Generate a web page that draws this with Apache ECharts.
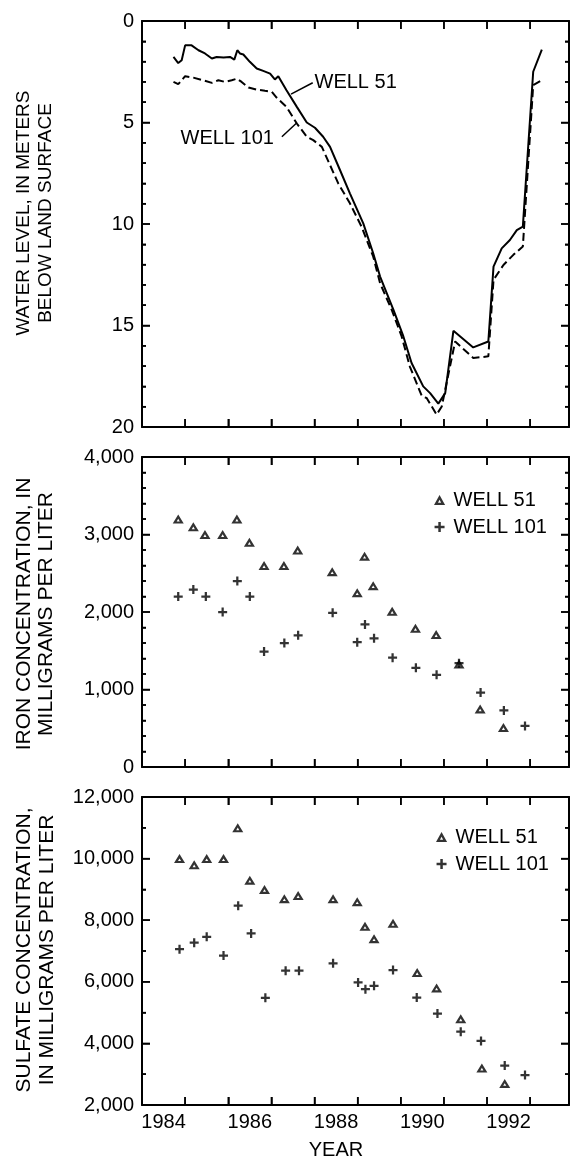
<!DOCTYPE html>
<html>
<head>
<meta charset="utf-8">
<title>Water level, iron and sulfate, wells 51 and 101</title>
<script src="https://cdn.jsdelivr.net/npm/echarts@6/dist/echarts.min.js"></script>
<style>
  html, body { margin: 0; padding: 0; background: #fff; }
  #chart { width: 570px; height: 1158px; }
</style>
</head>
<body>
<div id="chart"></div>
<script>
// ---- data (x = decimal year) ----
const yearLabels = [1984, 1986, 1988, 1990, 1992];
const yearTicks = [1985, 1986, 1987, 1988, 1989, 1990, 1991, 1992, 1993];
const levelTicks = [0, 5, 10, 15, 20];
const ironTicks = [0, 1000, 2000, 3000, 4000];
const sulfateTicks = [2000, 4000, 6000, 8000, 10000, 12000];

// Water level, in meters below land surface
const well51Level = [
  [1984.73, 1.77], [1984.84, 2.07], [1984.92, 1.93], [1985.0, 1.2], [1985.15, 1.2],
  [1985.31, 1.44], [1985.46, 1.6], [1985.62, 1.85], [1985.73, 1.77], [1985.89, 1.8],
  [1986.04, 1.77], [1986.14, 1.9], [1986.21, 1.44], [1986.27, 1.6], [1986.35, 1.65],
  [1986.5, 2.01], [1986.66, 2.34], [1986.81, 2.46], [1986.97, 2.59], [1987.08, 2.88],
  [1987.16, 2.72], [1987.35, 3.41], [1987.59, 4.23], [1987.82, 5.0], [1988.01, 5.26],
  [1988.2, 5.7], [1988.36, 6.2], [1988.59, 7.34], [1988.82, 8.49], [1989.13, 9.97],
  [1989.36, 11.44], [1989.52, 12.59], [1989.83, 14.23], [1990.06, 15.54], [1990.25, 16.85],
  [1990.52, 18.0], [1990.68, 18.33], [1990.87, 18.85], [1991.03, 18.33], [1991.22, 15.26],
  [1991.68, 16.08], [1992.03, 15.79], [1992.15, 12.1], [1992.34, 11.2], [1992.53, 10.79],
  [1992.69, 10.3], [1992.83, 10.13], [1993.07, 2.5], [1993.27, 1.41]
];
const well101Level = [
  [1984.73, 3.0], [1984.84, 3.11], [1985.0, 2.72], [1985.19, 2.79], [1985.42, 2.92],
  [1985.62, 3.05], [1985.77, 2.92], [1985.92, 3.0], [1986.08, 2.92], [1986.2, 2.84],
  [1986.31, 3.0], [1986.47, 3.28], [1986.66, 3.38], [1986.85, 3.44], [1987.01, 3.49],
  [1987.12, 3.77], [1987.35, 4.23], [1987.59, 5.05], [1987.82, 5.7], [1987.97, 5.87],
  [1988.17, 6.2], [1988.36, 7.1], [1988.55, 8.0], [1988.82, 8.98], [1989.09, 10.13],
  [1989.36, 11.6], [1989.52, 12.92], [1989.79, 14.23], [1990.02, 15.54], [1990.21, 17.02],
  [1990.49, 18.49], [1990.6, 18.57], [1990.83, 19.39], [1990.95, 18.99], [1991.26, 15.79],
  [1991.68, 16.6], [1992.03, 16.52], [1992.15, 12.75], [1992.38, 12.02], [1992.61, 11.52],
  [1992.83, 11.11], [1993.07, 3.16], [1993.27, 2.92]
];
// Leader lines from the well names to their curves, and where each name starts
const well51Leader = [[1987.455, 3.6], [1987.958, 3.04]];
const well101Leader = [[1987.243, 5.7], [1987.591, 5.01]];
const well51NameAt = [1988.0, 3.04];
const well101NameAt = [1984.893, 5.78];

// Iron concentration, in milligrams per liter
const ironWell51 = [
  [1984.84, 3200], [1985.19, 3100], [1985.46, 3000], [1985.87, 3000], [1986.2, 3200],
  [1986.49, 2900], [1986.83, 2600], [1987.29, 2600], [1987.61, 2800], [1988.41, 2520],
  [1988.99, 2250], [1989.16, 2720], [1989.36, 2340], [1989.8, 2010], [1990.34, 1790],
  [1990.82, 1710], [1991.35, 1330], [1991.84, 750], [1992.38, 510]
];
const ironWell101 = [
  [1984.84, 2200], [1985.19, 2290], [1985.48, 2200], [1985.87, 2000], [1986.21, 2400],
  [1986.5, 2200], [1986.83, 1490], [1987.3, 1600], [1987.62, 1700], [1988.42, 1990],
  [1988.99, 1610], [1989.17, 1840], [1989.38, 1660], [1989.81, 1410], [1990.35, 1280],
  [1990.83, 1190], [1991.35, 1340], [1991.85, 960], [1992.39, 730], [1992.88, 530]
];

// Sulfate concentration, in milligrams per liter
const sulfateWell51 = [
  [1984.87, 10000], [1985.21, 9800], [1985.5, 10000], [1985.89, 10000], [1986.22, 11000],
  [1986.5, 9300], [1986.84, 9000], [1987.3, 8700], [1987.62, 8800], [1988.43, 8700],
  [1988.99, 8600], [1989.17, 7800], [1989.38, 7400], [1989.82, 7900], [1990.38, 6300],
  [1990.83, 5800], [1991.39, 4800], [1991.88, 3200], [1992.41, 2700]
];
const sulfateWell101 = [
  [1984.87, 7060], [1985.21, 7270], [1985.5, 7460], [1985.89, 6850], [1986.23, 8470],
  [1986.53, 7570], [1986.86, 5480], [1987.33, 6360], [1987.64, 6360], [1988.43, 6600],
  [1989.01, 5980], [1989.18, 5760], [1989.38, 5870], [1989.82, 6380], [1990.37, 5490],
  [1990.85, 4970], [1991.39, 4380], [1991.86, 4080], [1992.41, 3280], [1992.88, 2970]
];

// ---- styling helpers ----
const FONT = '"Liberation Sans", Arial, Helvetica, sans-serif';
const INK = '#000';
const X_MIN = 1984, X_MAX = 1993.9;
// open triangle (outer outline with a hole) and a plus sign
const TRIANGLE = 'path://M5,0L10,9L0,9Z M5,4.3L3.6,6.9L6.4,6.9Z';
const PLUS = 'path://M3,0H5V3H8V5H5V8H3V5H0V3H3Z';

const withCommas = v => String(v).replace(/\B(?=(\d{3})+(?!\d))/g, ',');

function xAxisFor(grid, position, showLabels) {
  return {
    type: 'value', gridIndex: grid, position: position, min: X_MIN, max: X_MAX,
    axisLine: { show: true, onZero: false, lineStyle: { color: INK, width: 2 } },
    axisTick: { show: true, inside: true, length: 8, customValues: yearTicks,
                lineStyle: { color: INK, width: 1.5 } },
    axisLabel: showLabels ? {
      show: true, customValues: yearLabels.map(y => y + 0.5),
      formatter: v => String(Math.floor(v)),
      color: INK, fontSize: 20, fontFamily: FONT, margin: 7
    } : { show: false },
    splitLine: { show: false }
  };
}

function yAxisFor(grid, position, cfg, showLabels) {
  return {
    type: 'value', gridIndex: grid, position: position,
    min: cfg.min, max: cfg.max, interval: cfg.interval, inverse: !!cfg.inverse,
    axisLine: { show: true, onZero: false, lineStyle: { color: INK, width: 2 } },
    axisTick: { show: true, inside: true, length: 8, lineStyle: { color: INK, width: 1.5 } },
    minorTick: { show: true, splitNumber: cfg.minor, length: 4, lineStyle: { color: INK, width: 1.5 } },
    axisLabel: showLabels ? {
      show: true, formatter: withCommas, color: INK, fontSize: 20, fontFamily: FONT, margin: 8
    } : { show: false },
    splitLine: { show: false },
    minorSplitLine: { show: false }
  };
}

const levelAxis = { min: 0, max: 20, interval: 5, minor: 5, inverse: true, ticks: levelTicks };
const ironAxis = { min: 0, max: 4000, interval: 1000, minor: 5, ticks: ironTicks };
const sulfateAxis = { min: 2000, max: 12000, interval: 2000, minor: 2, ticks: sulfateTicks };

// Inward tick marks on all four sides of a panel, drawn as thin filled bars
// placed through the panel's own scales, on a layer of their own.
function frameTicks(axisIdx, cfg) {
  const minors = [];
  for (let i = 0; i < cfg.ticks.length - 1; i++) {
    const step = (cfg.ticks[i + 1] - cfg.ticks[i]) / cfg.minor;
    for (let k = 1; k < cfg.minor; k++) minors.push(cfg.ticks[i] + k * step);
  }
  return {
    type: 'custom', name: 'frame ticks ' + axisIdx, xAxisIndex: axisIdx, yAxisIndex: axisIdx,
    silent: true, clip: false, zlevel: 1, z: 5,
    data: [[X_MIN, cfg.min]],
    renderItem: (params, api) => {
      const r = params.coordSys;
      const left = r.x, right = r.x + r.width, top = r.y, bottom = r.y + r.height;
      const bar = (x, y, w, h) => ({ type: 'rect', shape: { x: x, y: y, width: w, height: h },
                                     style: { fill: INK } });
      const kids = [];
      yearTicks.forEach(t => {
        const px = api.coord([t, cfg.min])[0];
        kids.push(bar(px - 0.75, bottom - 8, 1.5, 8), bar(px - 0.75, top, 1.5, 8));
      });
      cfg.ticks.forEach(v => {
        const py = api.coord([X_MIN, v])[1];
        kids.push(bar(left, py - 0.75, 8, 1.5), bar(right - 8, py - 0.75, 8, 1.5));
      });
      minors.forEach(v => {
        const py = api.coord([X_MIN, v])[1];
        kids.push(bar(left, py - 0.75, 4, 1.5), bar(right - 4, py - 0.75, 4, 1.5));
      });
      return { type: 'group', children: kids };
    }
  };
}

function axisTitle(lines, x, y, size, lh) {
  return {
    type: 'text', x: x, y: y, rotation: Math.PI / 2, silent: true,
    style: { text: lines.join('\n'), fill: INK, fontSize: size, fontFamily: FONT,
             align: 'center', verticalAlign: 'middle', lineHeight: lh }
  };
}

function plainText(text, pos, align) {
  return {
    type: 'text', x: pos[0], y: pos[1], silent: true,
    style: { text: text, fill: INK, fontSize: 20, fontFamily: FONT,
             align: align, verticalAlign: 'middle' }
  };
}

function legendFor(left, top) {
  return {
    orient: 'vertical', left: left, top: top, itemWidth: 18, itemHeight: 10, itemGap: 7,
    selectedMode: false, padding: 0,
    textStyle: { color: INK, fontSize: 20, fontFamily: FONT },
    itemStyle: { color: INK },
    data: [{ name: 'WELL 51', icon: TRIANGLE }, { name: 'WELL 101', icon: PLUS }]
  };
}

function scatter(name, symbol, size, axisIdx, data) {
  return {
    type: 'scatter', name: name, xAxisIndex: axisIdx, yAxisIndex: axisIdx,
    symbol: symbol, symbolSize: size, symbolKeepAspect: true,
    itemStyle: { color: INK }, data: data
  };
}

function levelLine(name, data, dash, width) {
  return {
    type: 'line', name: name, xAxisIndex: 0, yAxisIndex: 0,
    data: data, showSymbol: false, symbol: 'none',
    lineStyle: { color: INK, width: width, type: dash || 'solid' }
  };
}

const chart = echarts.init(document.getElementById('chart'));

// is a tick visible next to the "5" on the water-level axis?
function tickShows() {
  const canvases = chart.getDom().querySelectorAll('canvas');
  for (const c of canvases) {
    const d = c.getContext('2d').getImageData(145, 118, 5, 9).data;
    for (let i = 0; i < d.length; i += 4) {
      if (d[i + 3] > 128 && d[i] < 110) return true;
    }
  }
  return false;
}
const steps = [];

// frame, axes and labels for the three stacked panels
chart.setOption({
  animation: false,
  backgroundColor: '#fff',
  grid: [
    { left: 142, top: 21, width: 427, height: 406 },
    { left: 142, top: 457, width: 427, height: 310 },
    { left: 142, top: 797, width: 427, height: 308 }
  ],
  xAxis: [
    xAxisFor(0, 'bottom', false), xAxisFor(0, 'top', false),
    xAxisFor(1, 'bottom', false), xAxisFor(1, 'top', false),
    xAxisFor(2, 'bottom', true), xAxisFor(2, 'top', false)
  ],
  yAxis: [
    yAxisFor(0, 'left', levelAxis, true), yAxisFor(0, 'right', levelAxis, false),
    yAxisFor(1, 'left', ironAxis, true), yAxisFor(1, 'right', ironAxis, false),
    yAxisFor(2, 'left', sulfateAxis, true), yAxisFor(2, 'right', sulfateAxis, false)
  ]
});
steps.push(tickShows());

// water-level curves, their leader lines, the concentration samples and panel ticks
chart.setOption({
  series: [
    scatter('WELL 51', TRIANGLE, [11, 10], 2, ironWell51),
    scatter('WELL 101', PLUS, 9, 2, ironWell101),
    scatter('WELL 51', TRIANGLE, [11, 10], 4, sulfateWell51),
    scatter('WELL 101', PLUS, 9, 4, sulfateWell101),
    levelLine('Well 51 water level', well51Level, null, 2),
    levelLine('Well 101 water level', well101Level, [8, 4], 2),
    levelLine('Well 51 leader', well51Leader, null, 1.5),
    levelLine('Well 101 leader', well101Leader, null, 1.5),
    frameTicks(0, levelAxis),
    frameTicks(2, ironAxis),
    frameTicks(4, sulfateAxis)
  ]
});
steps.push(tickShows());

chart.setOption({ legend: [legendFor(434, 490), legendFor(436, 827)] });
steps.push(tickShows());

// well names on the water-level panel, placed through the panel's scales
const toPx = p => chart.convertToPixel({ seriesIndex: 4 }, p);
const texts = [
  axisTitle(['WATER LEVEL, IN METERS', 'BELOW LAND SURFACE'], 35, 213, 19, 22.5),
  axisTitle(['IRON CONCENTRATION, IN', 'MILLIGRAMS PER LITER'], 35.5, 614, 21, 22),
  axisTitle(['SULFATE CONCENTRATION,', 'IN MILLIGRAMS PER LITER'], 36, 950, 21, 23),
  plainText('YEAR', [336, 1150], 'center'),
  plainText('WELL 51', toPx(well51NameAt), 'left'),
  plainText('WELL 101', toPx(well101NameAt), 'left')
];
chart.setOption({ graphic: texts });
steps.push(tickShows());

// tiny status note only when the ticks did not come through
if (!steps[steps.length - 1]) {
  chart.setOption({
    graphic: texts.concat([{
      type: 'text', x: 430, y: 40, silent: true,
      style: { text: 'ticks ' + steps.map(s => (s ? 1 : 0)).join(''), fill: '#888', fontSize: 10 }
    }])
  });
}
</script>
</body>
</html>
